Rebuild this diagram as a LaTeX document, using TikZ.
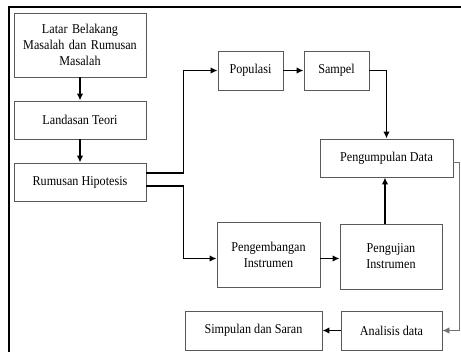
\documentclass[tikz,border=0pt]{standalone}
\usepackage{fontspec}
\setmainfont{Liberation Serif}[FakeStretch=0.9]
\usetikzlibrary{arrows.meta}

\begin{document}
\begin{tikzpicture}[x=1pt, y=-1pt,
    box/.style={draw=black!65, line width=0.9pt, align=center, inner sep=2pt,
                font=\fontsize{13.5}{16}\selectfont},
    arr/.style={line width=1.3pt, -{Latex[length=7pt,width=6.5pt]}},
    thinarr/.style={draw=black!55, line width=0.8pt, -{Latex[length=7pt,width=6.5pt]}}]
    \useasboundingbox (0,0) rectangle (461,352);
    % frame
    \draw[line width=1.8pt] (9,352) -- (9,7) -- (461,7);

    \node (latar) at (80,45) [box, minimum width=132pt, minimum height=64pt, text width=125pt] {Latar Belakang\\Masalah dan Rumusan\\Masalah};
    \node (teori) at (80,120) [box, minimum width=132pt, minimum height=38pt] {Landasan Teori};
    \node (hipo) at (80,182) [box, minimum width=132pt, minimum height=38pt] {Rumusan Hipotesis};
    \node (populasi) at (250.5,70.5) [box, minimum width=65pt, minimum height=39pt] {Populasi};
    \node (sampel) at (336.5,70.5) [box, minimum width=65pt, minimum height=39pt] {Sampel};
    \node (kumpul) at (386.5,158) [box, minimum width=133pt, minimum height=38pt] {Pengumpulan Data};
    \node (kembang) at (268.5,254.5) [box, minimum width=103pt, minimum height=65pt] {Pengembangan\\Instrumen};
    \node (uji) at (391,256.5) [box, minimum width=102pt, minimum height=65pt] {Pengujian\\Instrumen};
    \node (simpulan) at (253.5,330.5) [box, minimum width=137pt, minimum height=39pt] {Simpulan dan Saran};
    \node (analisis) at (391.5,330.5) [box, minimum width=101pt, minimum height=39pt] {Analisis data};

    \draw[arr] (latar) -- (teori);
    \draw[arr] (teori) -- (hipo);
    \draw[arr] ([yshift=9pt]hipo.east) -- ++(37pt,0) |- (populasi.west);
    \draw[arr] ([yshift=-4pt]hipo.east) -- ++(37pt,0) |- ([yshift=-4pt]kembang.west);
    \draw[arr] (populasi) -- (sampel);
    \draw[arr] (sampel.east) -| (kumpul.north);
    \draw[arr] ([yshift=-4pt]kembang.east) -- ([yshift=-4pt]kembang.east -| uji.west);
    \draw[arr] ([xshift=-6pt]uji.north) -- ([xshift=-6pt]uji.north |- kumpul.south);
    \draw[thinarr] ([yshift=-4pt]kumpul.east) -- ++(6pt,0) |- (analisis.east);
    \draw[arr] (analisis) -- (simpulan);
\end{tikzpicture}
\end{document}
